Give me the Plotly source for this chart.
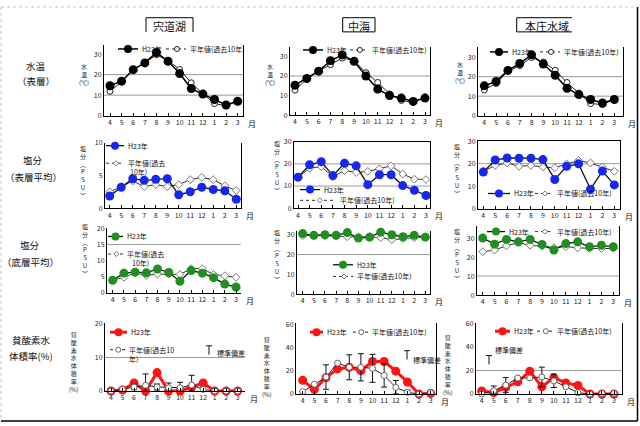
import plotly.graph_objects as go

W, H = 640, 426
FONT = "Noto Sans CJK JP"

months = ["4", "5", "6", "7", "8", "9", "10", "11", "12", "1", "2", "3"]
columns = ["宍道湖", "中海", "本庄水域"]
row_titles = [("水温", "（表層）"), ("塩分", "（表層平均）"), ("塩分", "（底層平均）"), ("貧酸素水", "体積率(%)")]
label_h23 = "H23年"
label_norm = "平年値(過去10年)"
label_sd = "標準偏差"

# Row 1: water temperature (surface)
shinji_temp_h23 = [14.6, 16.8, 22.4, 25.7, 30.8, 26.5, 20.5, 13.2, 10.5, 7.9, 5.2, 7.0]
shinji_temp_norm = [11.9, 16.5, 22.4, 25.7, 29.7, 26.8, 22.5, 16.0, 10.6, 5.9, 4.8, 7.1]
nakaumi_temp_h23 = [15.3, 18.7, 22.5, 27.8, 30.8, 27.5, 20.0, 13.3, 10.0, 8.7, 7.0, 8.7]
nakaumi_temp_norm = [12.8, 18.5, 22.5, 25.8, 29.2, 28.0, 21.7, 16.7, 10.8, 7.5, 6.5, 9.2]
honjo_temp_h23 = [15.3, 17.5, 23.2, 26.8, 31.2, 26.5, 20.7, 14.0, 10.8, 8.3, 6.5, 8.3]
honjo_temp_norm = [13.2, 16.5, 22.8, 25.7, 29.8, 27.5, 23.3, 17.0, 11.5, 6.2, 5.7, 8.3]

# Row 2: salinity (surface mean)
shinji_sal_h23 = [1.85, 3.2, 4.5, 4.25, 4.4, 4.5, 2.05, 2.5, 3.2, 2.85, 2.65, 1.35]
shinji_sal_norm = [2.5, 3.25, 4.15, 3.3, 3.6, 3.3, 3.6, 4.35, 4.7, 4.35, 3.4, 2.7]
nakaumi_sal_h23 = [14.0, 19.6, 21.0, 14.7, 20.3, 19.1, 10.6, 15.1, 15.1, 10.2, 8.1, 5.7]
nakaumi_sal_norm = [14.0, 18.0, 18.8, 14.2, 17.0, 16.1, 16.6, 17.8, 19.1, 15.4, 13.1, 12.9]
honjo_sal_h23 = [16.3, 21.6, 22.5, 22.4, 22.4, 21.8, 13.0, 18.8, 19.9, 8.7, 16.7, 10.6]
honjo_sal_norm = [16.6, 19.2, 20.3, 18.8, 19.2, 18.5, 18.2, 19.9, 21.4, 20.3, 18.5, 16.6]

# Row 3: salinity (bottom mean)
shinji_bot_h23 = [3.9, 6.1, 6.4, 6.2, 7.4, 6.3, 3.6, 6.9, 6.1, 4.7, 2.7, 1.8]
shinji_bot_norm = [3.9, 4.8, 6.2, 5.4, 5.8, 5.8, 5.7, 7.5, 7.5, 5.7, 5.3, 4.8]
nakaumi_bot_h23 = [30.6, 29.7, 30.0, 29.7, 31.1, 28.3, 28.8, 31.3, 30.0, 29.0, 29.7, 28.8]
nakaumi_bot_norm = [29.5, 29.7, 29.5, 29.3, 29.0, 28.8, 29.0, 28.5, 27.5, 28.0, 28.5, 29.0]
honjo_bot_h23 = [30.0, 26.8, 29.3, 28.0, 29.3, 26.6, 23.7, 27.1, 28.0, 25.4, 26.2, 25.4]
honjo_bot_norm = [22.8, 23.7, 25.9, 27.6, 26.2, 25.7, 25.0, 25.4, 24.9, 24.5, 24.5, 24.5]

# Row 4: hypoxic water volume ratio (%)
shinji_do_h23 = [0, 0.3, 2.4, 0, 5.5, 0, 0, 1.2, 2.4, 0, 0, 0]
shinji_do_norm = [0, 0.5, 1.2, 1.7, 1.2, 1.0, 1.0, 1.8, 0.5, 0, 0, 0]
shinji_do_sd = [0, 0, 0.8, 3.4, 0.9, 1.4, 1.6, 2.9, 0.6, 0, 0, 0]
nakaumi_do_h23 = [11.7, 3.9, 14.0, 21.5, 22.9, 20.0, 27.9, 27.9, 19.6, 10.3, 0, 0.5]
nakaumi_do_norm = [2.0, 8.4, 14.5, 26.5, 22.9, 22.9, 22.0, 15.9, 5.6, 1.4, 0, 1.0]
nakaumi_do_sd = [0, 0, 10.5, 0, 10.7, 11.7, 12.0, 10.0, 6.0, 2.0, 0, 0]
honjo_do_h23 = [2.5, 1.1, 5.6, 10.3, 19.4, 6.1, 13.9, 9.4, 7.2, 0, 0, 0]
honjo_do_norm = [0, 2.8, 7.5, 13.6, 13.6, 14.4, 11.1, 6.1, 1.1, 0, 0.5, 0.5]
honjo_do_sd = [0, 4.0, 6.4, 0, 0, 8.4, 5.6, 0, 0, 0, 0, 0]

ytitle_temp = "水<br>温<br>(℃)"
ytitle_sal = "塩<br>分<br>︵<br>P<br>S<br>U<br>︶"
ytitle_do = "貧<br>酸<br>素<br>水<br>体<br>積<br>率<br>(%)"


def fx(x):
    return x / W


def fy(y):
    return 1 - y / H


BLUE = "#1428f0"
GREEN = "#1f8f1f"
RED = "#ff1414"

styles = {
    "temp": dict(fill="black", line="black", lw=1.5, nsym="circle", nline="#222", nmk="#222"),
    "sal": dict(fill=BLUE, line="#111", lw=1.3, nsym="diamond", nline="#333", nmk="#777"),
    "bot": dict(fill=GREEN, line="#111", lw=1.3, nsym="diamond", nline="#333", nmk="#777"),
    "do": dict(fill=RED, line=RED, lw=3, nsym="circle", nline="#222", nmk="#666"),
}

panels = [
    # row 1
    dict(box=(104, 243, 40, 112.3), first=110, last=237.7, top=34.4, yt=[0, 10, 20, 30], grid=[10, 20],
         mx=False, my=True, kind="temp", h=shinji_temp_h23, n=shinji_temp_norm, yt_pos=(84, 70), ytitle=ytitle_temp,
         leg=[("h23", 118, 44, 20), ("norm", 166, 44, 20)]),
    dict(box=(290, 430, 41.7, 111.7), first=295, last=425, top=35, yt=[0, 10, 20, 30], grid=[20],
         mx=False, my=True, kind="temp", h=nakaumi_temp_h23, n=nakaumi_temp_norm, yt_pos=(270, 70), ytitle=ytitle_temp,
         leg=[("h23", 303, 45, 20), ("norm", 350, 45, 18)]),
    dict(box=(478, 622.7, 42, 112.3), first=484.3, last=614.3, top=35.2, yt=[0, 10, 20, 30], grid=[10, 20],
         mx=False, my=True, kind="temp", h=honjo_temp_h23, n=honjo_temp_norm, yt_pos=(460, 68), ytitle=ytitle_temp,
         leg=[("h23", 490, 47, 18), ("norm", 540, 47, 20)]),
    # row 2
    dict(box=(105, 241, 140, 207), first=109.7, last=236.3, top=10, yt=[0, 5, 10], grid=[],
         mx=False, my=True, kind="sal", h=shinji_sal_h23, n=shinji_sal_norm, yt_pos=(83, 170), ytitle=ytitle_sal,
         leg=[("h23", 106, 143, 18), ("norm2", 106, 161, 18, "平年値(過去", "10年)", 128)]),
    dict(box=(294, 430, 139, 207), first=298, last=426, top=30, yt=[0, 10, 20, 30], grid=[10, 20],
         mx=True, my=True, kind="sal", h=nakaumi_sal_h23, n=nakaumi_sal_norm, yt_pos=(277, 165), ytitle=ytitle_sal,
         leg=[("h23", 300, 188, 20), ("norm", 300, 199, 36)]),
    dict(box=(478, 620, 138.3, 207.7), first=483.3, last=614.3, top=30, yt=[0, 10, 20, 30], grid=[20],
         mx=True, my=True, kind="sal", h=honjo_sal_h23, n=honjo_sal_norm, yt_pos=(457, 168), ytitle=ytitle_sal,
         leg=[("h23", 488, 192, 22), ("norm", 535, 192, 18)]),
    # row 3
    dict(box=(107, 240.7, 227.7, 293.7), first=112.7, last=236, top=20, yt=[0, 5, 10, 15, 20], grid=[15],
         mx=False, my=False, kind="bot", h=shinji_bot_h23, n=shinji_bot_norm, yt_pos=(85, 250), ytitle=ytitle_sal,
         leg=[("h23", 108, 236, 15), ("norm2", 108, 254, 15, "平年値(過去", "10年)", 130)]),
    dict(box=(297, 430, 230, 295), first=302.7, last=425.3, top=32.1, yt=[0, 10, 20, 30], grid=[20],
         mx=False, my=True, kind="bot", h=nakaumi_bot_h23, n=nakaumi_bot_norm, yt_pos=(277, 256), ytitle=ytitle_sal,
         leg=[("h23", 333, 265, 20), ("norm", 333, 277, 20)]),
    dict(box=(477, 619, 225, 296), first=482.7, last=613.3, top=36.5, yt=[0, 10, 20, 30], grid=[10],
         mx=False, my=True, kind="bot", h=honjo_bot_h23, n=honjo_bot_norm, yt_pos=(457, 255), ytitle=ytitle_sal,
         leg=[("h23", 487, 231, 18), ("norm", 535, 231, 18)]),
    # row 4
    dict(box=(105, 245, 325, 394.3), first=111, last=237.7, top=20.2, yt=[0, 10, 20], grid=[10],
         mx=False, my=False, kind="do", h=shinji_do_h23, n=shinji_do_norm, sd=shinji_do_sd, yt_pos=(74, 365),
         ytitle=ytitle_do,
         leg=[("h23", 110, 334, 17), ("norm2", 110, 352, 15, "平年値(過去10", "年)", 127), ("sd", 209, 348, 215, 355)]),
    dict(box=(296, 435.7, 325, 397.3), first=302.7, last=430.7, top=60.6, yt=[0, 20, 40, 60], grid=[],
         mx=False, my=True, kind="do", h=nakaumi_do_h23, n=nakaumi_do_norm, sd=nakaumi_do_sd, yt_pos=(267, 370),
         ytitle=ytitle_do,
         leg=[("h23", 310, 334, 13), ("norm", 353, 334, 15), ("sd", 407, 353, 411, 362)]),
    dict(box=(476, 621.7, 325, 397.3), first=481.7, last=614, top=60, yt=[0, 20, 40, 60], grid=[20],
         mx=False, my=True, kind="do", h=honjo_do_h23, n=honjo_do_norm, sd=honjo_do_sd, yt_pos=(448, 368),
         ytitle=ytitle_do,
         leg=[("h23", 495, 333, 15), ("norm", 537, 333, 16), ("sd", 489, 358, 493, 352)]),
]

fig = go.Figure()
shapes = []
annotations = []
layout_axes = {}


def ann(x, y, text, size=7, xanchor="left", color="#111", **kw):
    annotations.append(dict(x=fx(x), y=fy(y), xref="paper", yref="paper", text=text, showarrow=False,
                            xanchor=xanchor, yanchor="middle", font=dict(family=FONT, size=size, color=color), **kw))


def pline(x0, y0, x1, y1, color="black", width=1, dash="solid"):
    shapes.append(dict(type="line", xref="paper", yref="paper", x0=fx(x0), y0=fy(y0), x1=fx(x1), y1=fy(y1),
                       line=dict(color=color, width=width, dash=dash)))


def pmarker(cx, cy, sym, size, fill, outline, lw=1):
    s = size / 2
    if sym == "circle":
        shapes.append(dict(type="circle", xref="paper", yref="paper", xsizemode="pixel", ysizemode="pixel",
                           xanchor=fx(cx), yanchor=fy(cy), x0=-s, x1=s, y0=-s, y1=s,
                           fillcolor=fill, line=dict(color=outline, width=lw)))
    else:
        shapes.append(dict(type="path", xref="paper", yref="paper", xsizemode="pixel", ysizemode="pixel",
                           xanchor=fx(cx), yanchor=fy(cy), path=f"M 0 {-s} L {s} 0 L 0 {s} L {-s} 0 Z",
                           fillcolor=fill, line=dict(color=outline, width=lw)))


for i, p in enumerate(panels, start=1):
    l, r, t, b = p["box"]
    dx = (p["last"] - p["first"]) / 11
    xr = [(l - p["first"]) / dx, (r - p["first"]) / dx]
    st = styles[p["kind"]]
    xa = "x" if i == 1 else f"x{i}"
    ya = "y" if i == 1 else f"y{i}"
    xs = list(range(12))

    norm_kw = dict(x=xs, y=p["n"], xaxis=xa, yaxis=ya, mode="lines+markers", cliponaxis=False, showlegend=False,
                   name=label_norm,
                   line=dict(color=st["nline"], width=1),
                   marker=dict(symbol=st["nsym"], size=6, color="white",
                               line=dict(color=st["nmk"], width=1)))
    if "sd" in p:
        norm_kw["error_y"] = dict(type="data", symmetric=False, array=p["sd"],
                                  arrayminus=[min(s, v) for s, v in zip(p["sd"], p["n"])],
                                  color="#111", thickness=1, width=3)
    h23_tr = go.Scatter(x=xs, y=p["h"], xaxis=xa, yaxis=ya, mode="lines+markers", cliponaxis=False,
                        showlegend=False, name=label_h23,
                        line=dict(color=st["line"], width=st["lw"]),
                        marker=dict(symbol="circle", size=9, color=st["fill"], line=dict(color=st["fill"], width=0)))
    if p["kind"] == "do":
        fig.add_trace(h23_tr)
        fig.add_trace(go.Scatter(**norm_kw))
    else:
        fig.add_trace(go.Scatter(**norm_kw))
        fig.add_trace(h23_tr)

    axis_font = dict(family=FONT, size=7, color="#222")
    layout_axes["xaxis" if i == 1 else f"xaxis{i}"] = dict(
        domain=[fx(l), fx(r)], anchor=ya, range=xr, tickmode="array", tickvals=xs, ticktext=months,
        showline=True, linecolor="black", linewidth=1, mirror=p["mx"], ticks="inside", ticklen=3,
        tickcolor="black", showgrid=False, zeroline=False, tickfont=axis_font, fixedrange=True)
    layout_axes["yaxis" if i == 1 else f"yaxis{i}"] = dict(
        domain=[fy(b), fy(t)], anchor=xa, range=[0, p["top"]], tickmode="array", tickvals=p["yt"],
        showline=True, linecolor="black", linewidth=1, mirror=p["my"], ticks="", showgrid=False,
        zeroline=False, tickfont=axis_font, fixedrange=True)

    for g in p["grid"]:
        shapes.append(dict(type="line", xref=f"{xa} domain", yref=ya, x0=0, x1=1, y0=g, y1=g,
                           line=dict(color="#9a9a9a", width=1), layer="below"))

    # month label
    ann(r + 3, b + 8, "月", size=8)
    # vertical axis title
    annotations.append(dict(x=fx(p["yt_pos"][0]), y=fy(p["yt_pos"][1]), xref="paper", yref="paper",
                            text=p["ytitle"], showarrow=False, xanchor="center", yanchor="middle",
                            font=dict(family=FONT, size=6, color="#222")))

    # legend samples
    for item in p["leg"]:
        k = item[0]
        if k == "h23":
            _, x0, y0, w = item
            pline(x0, y0, x0 + w, y0, color=st["line"], width=st["lw"])
            pmarker(x0 + w / 2, y0, "circle", 8, st["fill"], st["fill"], 0)
            ann(x0 + w + 2, y0, label_h23)
        elif k in ("norm", "norm2"):
            x0, y0, w = item[1], item[2], item[3]
            pline(x0, y0, x0 + w, y0, color=st["nline"], width=1, dash="dot")
            pmarker(x0 + w * 0.55, y0, st["nsym"], 5, "white", st["nmk"], 1)
            if k == "norm":
                ann(x0 + w + 2, y0, label_norm)
            else:
                ann(x0 + w + 2, y0, item[4])
                ann(item[6], y0 + 9, item[5])
        elif k == "sd":
            _, sx, sy, tx, ty = item
            pline(sx - 3, sy, sx + 3, sy, color="#111", width=1)
            pline(sx, sy, sx, sy + 9, color="#111", width=1)
            ann(tx, ty, label_sd)

# column headers
hdr = [(146, 193, columns[0], "tlr"), (342.7, 375, columns[1], "all"), (516.7, 572, columns[2], "tlb")]
for x0, x1, txt, sides in hdr:
    y0, y1 = 12, 26.5
    if sides in ("tlr", "all"):
        pline(x0, y0, x1, y0)
        pline(x0, y0, x0, y1)
        pline(x1, y0, x1, y1)
        if sides == "all":
            pline(x0, y1, x1, y1)
    else:
        pline(x0, y0, x1, y0)
        pline(x0, y0, x0, y1)
        pline(x0, y1, x1, y1)
    ann((x0 + x1) / 2 + (3 if sides == "tlb" else 0), 20, txt, size=11, xanchor="center")

# row titles
row_pos = [((36, 61), (36, 77)), ((33, 158), (33, 175)), ((30, 245), (30, 262)), ((31, 342), (31, 358))]
for (t1, t2), ((x1, y1), (x2, y2)) in zip(row_titles, row_pos):
    ann(x1, y1, t1, size=9.5, xanchor="center")
    ann(x2, y2, t2, size=9.5, xanchor="center")

# outer frame
pline(1, 1, 1, 425, color="#b8c8dc", width=1, dash="dot")
pline(1, 1, 637, 1, color="#b8c8dc", width=1, dash="dot")
pline(637.5, 1, 637.5, 425, color="black", width=1.5)
pline(1, 425, 637.5, 425, color="black", width=1.5)

fig.update_layout(width=W, height=H, margin=dict(l=0, r=0, t=0, b=0), paper_bgcolor="white",
                  plot_bgcolor="rgba(0,0,0,0)", showlegend=False, shapes=shapes, annotations=annotations,
                  font=dict(family=FONT), **layout_axes)
fig.write_html("out.html")
